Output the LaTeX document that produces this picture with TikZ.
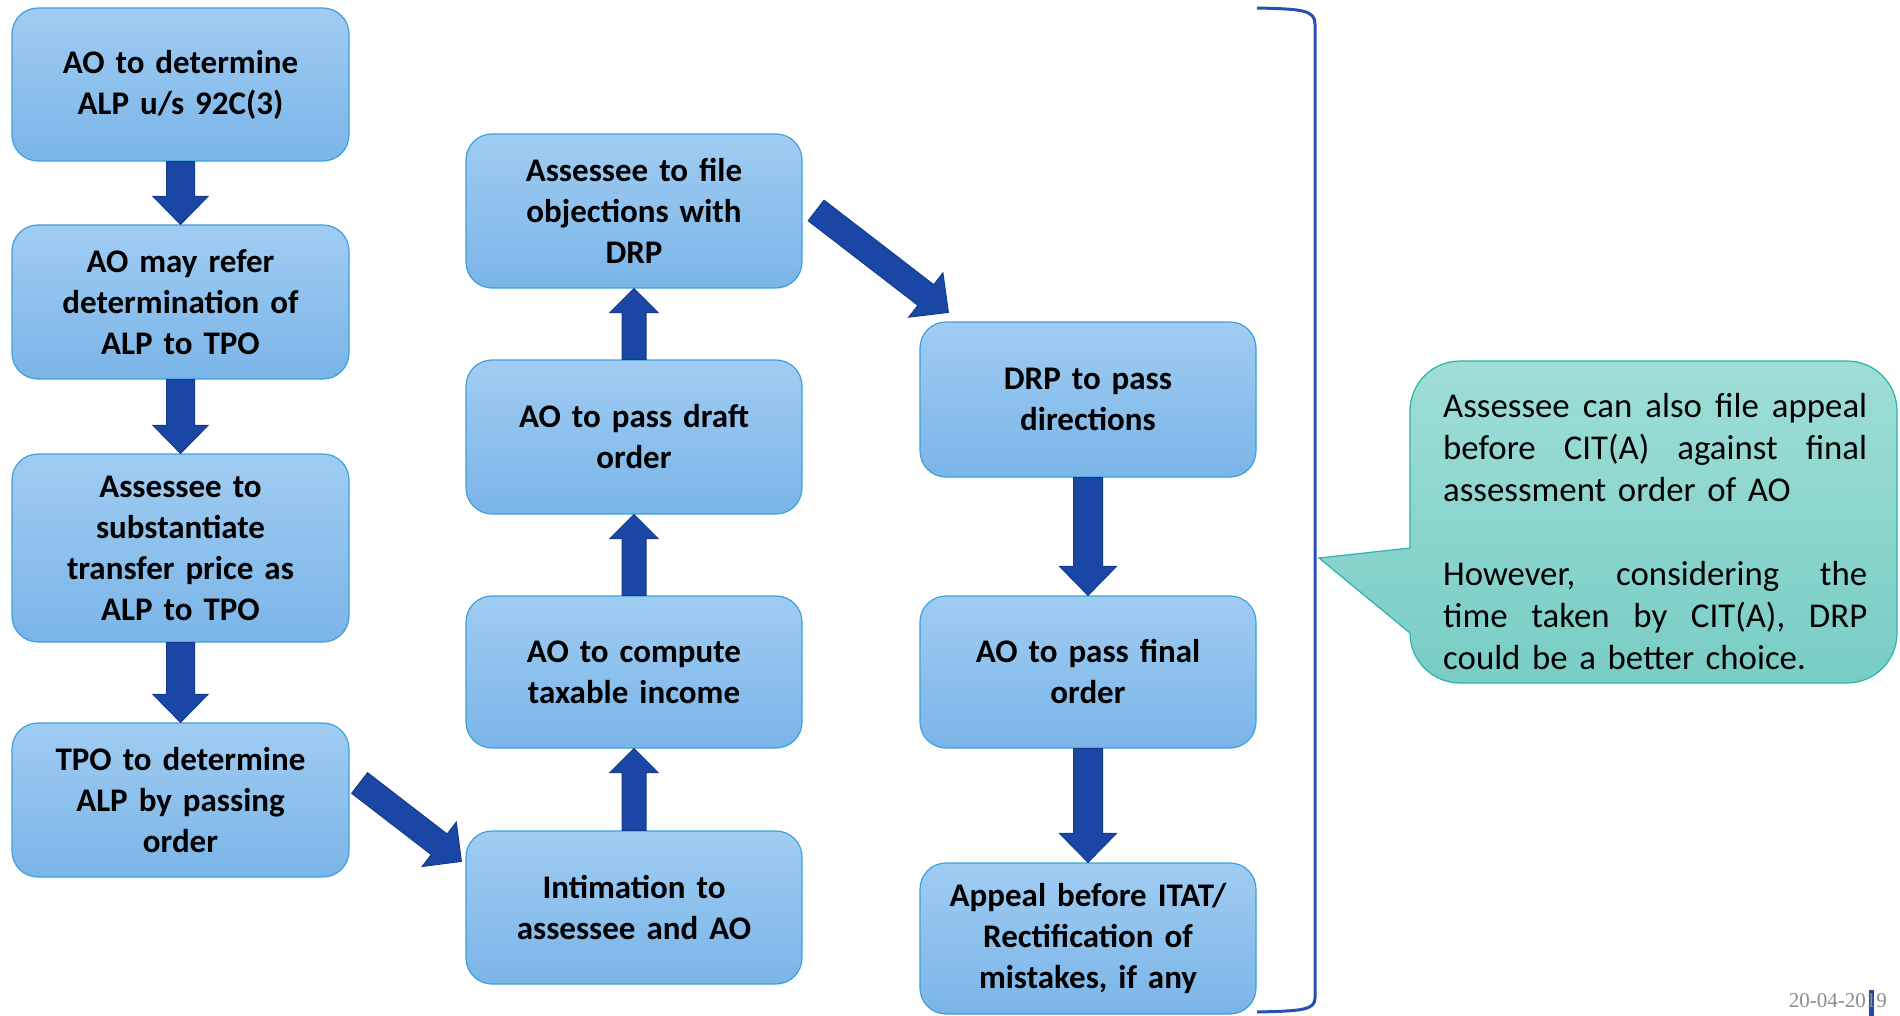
\documentclass[tikz,border=0pt]{standalone}
\usepackage{fontspec}
\setmainfont{Carlito}
\newfontfamily\datefont{Liberation Serif}
\usetikzlibrary{calc}
\definecolor{boxtop}{HTML}{A0CCF2}
\definecolor{boxbot}{HTML}{7AB5E8}
\definecolor{boxline}{HTML}{3FA0DC}
\definecolor{arrowfill}{HTML}{1A47A6}
\definecolor{arrowline}{HTML}{153B8C}
\definecolor{bracketblue}{HTML}{2550B4}
\definecolor{calltop}{HTML}{9EDED7}
\definecolor{callbot}{HTML}{78CDC5}
\definecolor{callline}{HTML}{2BB3A8}
\definecolor{dategray}{HTML}{8C8C8C}
\definecolor{cursorblue}{HTML}{2147B0}

% block arrow: from, to, shaft half width, head half width, head length
\newcommand\barrow[5]{%
  \path #1 coordinate (ba-s);
  \path #2 coordinate (ba-e);
  \pgfpointdiff{\pgfpointanchor{ba-s}{center}}{\pgfpointanchor{ba-e}{center}}%
  \pgfgetlastxy{\bax}{\bay}%
  \pgfmathsetmacro\baang{atan2(\bay,\bax)}%
  \pgfmathsetmacro\balen{veclen(\bax,\bay)}%
  \filldraw[blockarrow, shift={(ba-s)}, rotate=\baang]
    (0,-#3) -- (\balen-#5,-#3) -- (\balen-#5,-#4) -- (\balen,0)
    -- (\balen-#5,#4) -- (\balen-#5,#3) -- (0,#3) -- cycle;
}
\newcommand\jline[1]{\leavevmode\hbox to 424pt{#1}}

\begin{document}
\begin{tikzpicture}[x=1pt,y=1pt,
  box/.style={draw=boxline, line width=1.2pt, rounded corners=26pt,
    top color=boxtop, bottom color=boxbot, inner sep=0pt, align=center,
    text width=316pt, minimum width=#1,
    font=\fontsize{33}{41}\selectfont\bfseries},
  box/.default=337pt,
  blockarrow/.style={fill=arrowfill, draw=arrowline, line width=1pt, line join=miter},
  bracketline/.style={draw=bracketblue, line width=3pt},
  callout/.style={draw=callline, line width=1.2pt, top color=calltop, bottom color=callbot}
]
\useasboundingbox (0,0) rectangle (1900,-1016);

% left column
\node[box, minimum height=153pt] (b1) at (180.5,-84.5) {AO to determine\\ALP u/s 92C(3)};
\node[box, minimum height=154pt] (b2) at (180.5,-302) {AO may refer\\determination of\\ALP to TPO};
\node[box, minimum height=188pt] (b3) at (180.5,-548) {Assessee to\\substantiate\\transfer price as\\ALP to TPO};
\node[box, minimum height=154pt] (b4) at (180.5,-800) {TPO to determine\\ALP by passing\\order};

% middle column
\node[box=336pt, minimum height=154pt] (m1) at (634,-211) {Assessee to file\\objections with\\DRP};
\node[box=336pt, minimum height=154pt] (m2) at (634,-437) {AO to pass draft\\order};
\node[box=336pt, minimum height=152pt] (m3) at (634,-672) {AO to compute\\taxable income};
\node[box=336pt, minimum height=153pt] (m4) at (634,-907.5) {Intimation to\\assessee and AO};

% right column
\node[box=336pt, minimum height=155pt] (r1) at (1088,-399.5) {DRP to pass\\directions};
\node[box=336pt, minimum height=152pt] (r2) at (1088,-672) {AO to pass final\\order};
\node[box=336pt, minimum height=151pt] (r3) at (1088,-938.5) {Appeal before ITAT/\\Rectification of\\mistakes, if any};

% arrows left column
\barrow{(b1.south)}{(b2.north)}{14}{27.5}{28}
\barrow{(b2.south)}{(b3.north)}{14}{27.5}{28}
\barrow{(b3.south)}{(b4.north)}{14}{27.5}{28}
% diagonal to intimation
\coordinate (a1s) at ($(b4.east)+(10,17)$);
\coordinate (a1e) at ($(m4.north west)+(-4,-31)$);
\barrow{(a1s)}{(a1e)}{13}{28}{28}
% middle column upward
\barrow{(m4.north)}{(m3.south)}{12}{24}{24}
\barrow{(m3.north)}{(m2.south)}{12}{24}{24}
\barrow{(m2.north)}{(m1.south)}{12}{24}{24}
% diagonal to DRP
\coordinate (a2s) at ($(m1.east)+(13.5,0.5)$);
\coordinate (a2e) at ($(r1.north west)+(29,9)$);
\barrow{(a2s)}{(a2e)}{13}{28}{28.5}
% right column downward
\barrow{(r1.south)}{(r2.north)}{14.5}{28.5}{29}
\barrow{(r2.south)}{(r3.north)}{14.5}{28.5}{29}

% bracket
\path[bracketline] (1257,-8) .. controls (1302,-9) and (1315,-10) .. (1315,-24)
  -- (1315,-998) .. controls (1315,-1010) and (1302,-1011) .. (1257,-1012);

% callout
\path[callout] (1410,-548) -- (1410,-411) arc[start angle=180, end angle=90, radius=50]
  -- (1847,-361) arc[start angle=90, end angle=0, radius=50]
  -- (1897,-633) arc[start angle=0, end angle=-90, radius=50]
  -- (1460,-683) arc[start angle=-90, end angle=-180, radius=50]
  -- (1319,-558) -- cycle;
\node[anchor=north west, inner sep=0pt, text width=424pt, align=left,
  font=\fontsize{34.8}{42}\selectfont] (note) at (1443,-393)
  {\jline{Assessee\hfill can\hfill also\hfill file\hfill appeal}\\
   \jline{before\hfill CIT(A)\hfill against\hfill final}\\
   assessment order of AO\\
   \mbox{}\\
   \jline{However,\hfill considering\hfill the}\\
   \jline{time\hfill taken\hfill by\hfill CIT(A),\hfill DRP}\\
   could be a better choice.};

% date
\fill[cursorblue] (1869,-990) rectangle (1874,-1016);
\node[anchor=base east, inner sep=0pt, text=dategray,
  font=\datefont\fontsize{21}{24}\selectfont] (date) at (1887,-1007) {20-04-2019};
\end{tikzpicture}
\end{document}
